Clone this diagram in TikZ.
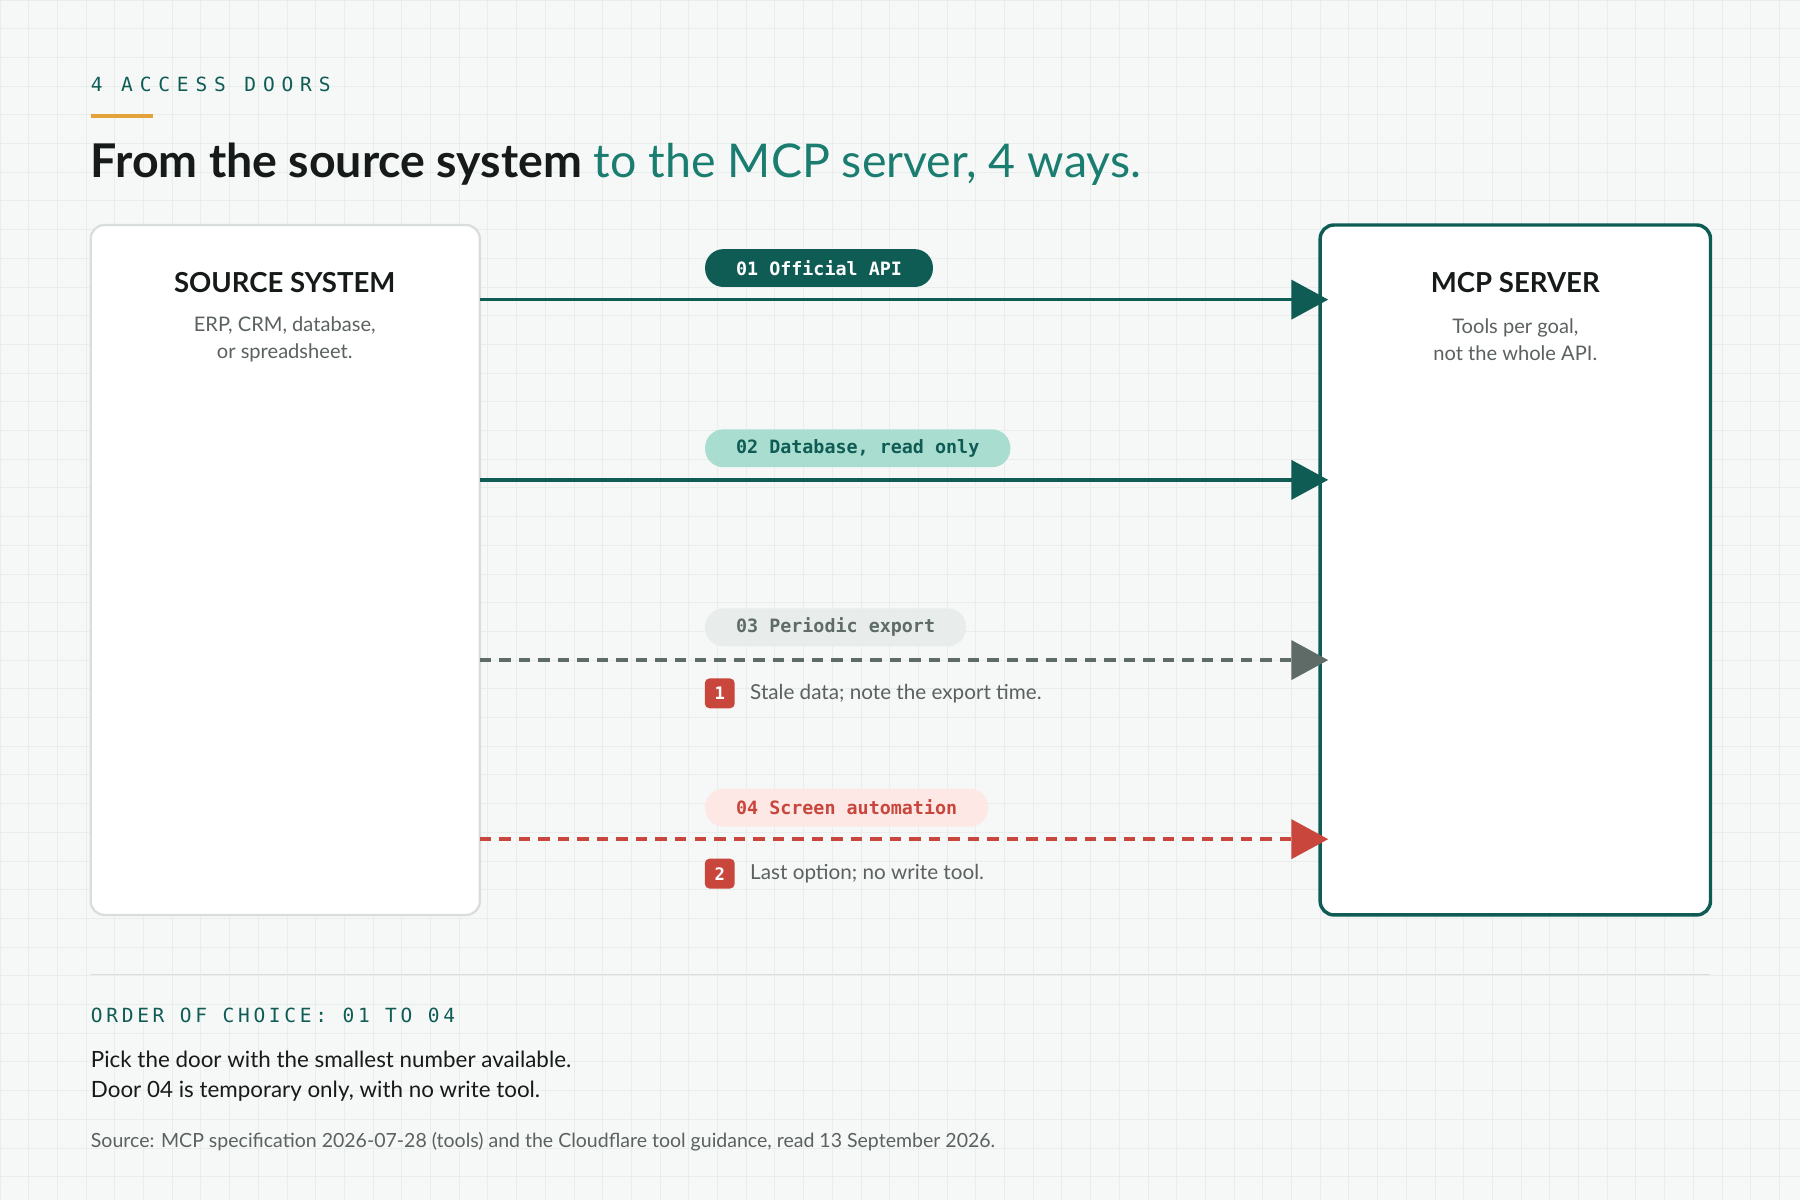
\documentclass[tikz,border=0pt]{standalone}
\usepackage{fontspec}
\setmainfont{Lato}
\newfontfamily\mono{DejaVu Sans Mono}
\newfontfamily\monosp{DejaVu Sans Mono}[LetterSpace=35]
\newfontfamily\monosq{DejaVu Sans Mono}[LetterSpace=19]
\usetikzlibrary{arrows.meta}
\definecolor{bg}{HTML}{F6F8F7}
\definecolor{gridc}{HTML}{E9EDEC}
\definecolor{teal}{HTML}{0F5C55}
\definecolor{tealt}{HTML}{1A7D70}
\definecolor{mint}{HTML}{A8DDD0}
\definecolor{greyp}{HTML}{E8EDEB}
\definecolor{greyt}{HTML}{5F6B67}
\definecolor{pinkp}{HTML}{FDE8E6}
\definecolor{redc}{HTML}{C9463D}
\definecolor{orangec}{HTML}{E3A33A}
\definecolor{boxb}{HTML}{D9DEDC}
\definecolor{ink}{HTML}{161A19}
\definecolor{subt}{HTML}{5A615F}
\tikzset{
  box/.style={fill=white, rounded corners=12pt, line width=2pt},
  pill/.style={anchor=west, rounded corners=16pt, minimum height=33pt, inner xsep=27pt, inner ysep=0pt, font=\mono\bfseries\fontsize{16}{18}\selectfont},
  flow/.style={line width=3pt, -{Triangle[length=32pt,width=34pt]}},
  badge/.style={fill=redc, text=white, rounded corners=4pt, minimum size=26pt, inner sep=0pt, font=\mono\bfseries\fontsize{15}{17}\selectfont},
  note/.style={anchor=west, text=subt, font=\fontsize{18}{20}\selectfont},
}
\begin{document}
\begin{tikzpicture}[x=1pt,y=-1pt]
\fill[bg] (0,0) rectangle (1568,1045);
\useasboundingbox (0,0) rectangle (1568,1045);
\draw[gridc, line width=0.8pt] (0,0) grid[step=25pt] (1568,1045);
% header
\node[anchor=base west, inner sep=0, text=teal, font=\monosp\fontsize{17}{18}\selectfont] (kick) at (79,80) {4 ACCESS DOORS};
\draw[orangec, line width=3pt] (79,101) -- (133,101);
\node[anchor=base west, inner sep=0, font=\fontsize{40.5}{44}\selectfont] (title) at (79,155) {\textcolor{ink}{\bfseries From the source system} \textcolor{tealt}{to the MCP server, 4 ways.}};
% boxes
\draw[box, draw=boxb] (79,196) rectangle (418,797);
\draw[box, draw=teal, line width=3pt] (1150,196) rectangle (1490,797);
\coordinate (L1) at (418,261); \coordinate (R1) at (1157,261);
\coordinate (L2) at (418,418); \coordinate (R2) at (1157,418);
\coordinate (L3) at (418,575); \coordinate (R3) at (1157,575);
\coordinate (L4) at (418,731); \coordinate (R4) at (1157,731);
\node[font=\bfseries\fontsize{24}{26}\selectfont, text=ink] (st) at (248,246) {SOURCE SYSTEM};
\node[align=center, text=subt, font=\fontsize{17.5}{23.5}\selectfont] (ss) at (248,296) {ERP, CRM, database,\\or spreadsheet.};
\node[font=\bfseries\fontsize{24}{26}\selectfont, text=ink] (mt) at (1320,246) {MCP SERVER};
\node[align=center, text=subt, font=\fontsize{17.5}{23.5}\selectfont] (ms) at (1320,296) {Tools per goal,\\not the whole API.};
% arrows
\draw[flow, teal] (L1) -- (R1);
\draw[flow, teal] (L2) -- (R2);
\draw[flow, greyt, dash pattern=on 10pt off 7pt] (L3) -- (R3);
\draw[flow, redc, dash pattern=on 10pt off 7pt] (L4) -- (R4);
% pills
\node[pill, fill=teal, text=white] (p1) at (614,233.5) {01 Official API};
\node[pill, fill=mint, text=teal] (p2) at (614,390.5) {02 Database, read only};
\node[pill, fill=greyp, text=greyt] (p3) at (614,546.5) {03 Periodic export};
\node[pill, fill=pinkp, text=redc] (p4) at (614,703.5) {04 Screen automation};
% badges
\node[badge] (b1) at (627,604) {1};
\node[note] (n1) at (650,604) {Stale data; note the export time.};
\node[badge] (b2) at (627,761) {2};
\node[note] (n2) at (650,761) {Last option; no write tool.};
% footer
\draw[boxb, line width=1pt] (79,849) -- (1490,849);
\node[anchor=base west, inner sep=0, text=teal, font=\monosq\fontsize{17}{18}\selectfont] (oc) at (79,891) {ORDER OF CHOICE: 01 TO 04};
\node[anchor=base west, inner sep=0, text=ink, font=\fontsize{19.5}{26}\selectfont] (pk) at (79,930) {Pick the door with the smallest number available.};
\node[anchor=base west, inner sep=0, text=ink, font=\fontsize{19.5}{26}\selectfont] (d4) at (79,956) {Door 04 is temporary only, with no write tool.};
\node[anchor=base west, inner sep=0, text=subt, font=\fontsize{17}{18}\selectfont] (src) at (79,1000) {Source: MCP specification 2026-07-28 (tools) and the Cloudflare tool guidance, read 13 September 2026.};
\end{tikzpicture}
\end{document}
